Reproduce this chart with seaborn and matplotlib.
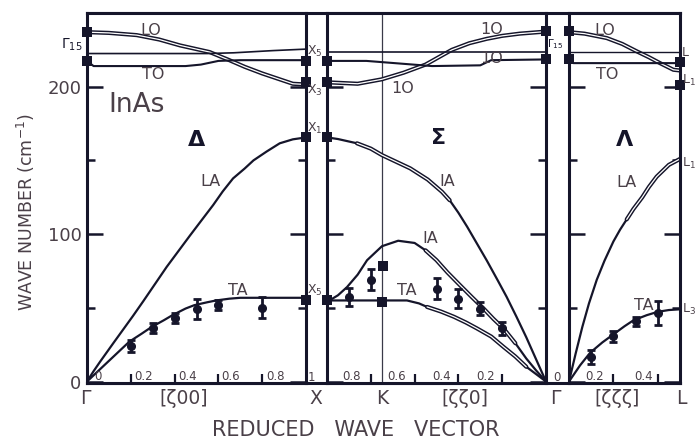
import matplotlib
matplotlib.use("Agg")
import matplotlib.pyplot as plt
import seaborn as sns
import pandas as pd

# ---------------- data (cm^-1) ----------------
# Delta  [z00]  Gamma -> X
d_lo_z = [0, 0.1, 0.227, 0.33, 0.425, 0.56, 0.65, 0.72, 0.80, 0.88, 0.94, 1.0]
d_lo = [237, 236.5, 235, 232, 228, 223.5, 218, 213.5, 209, 205, 202, 201.5]
d_to1_z = [0, 0.3, 0.55, 0.67, 0.85, 1.0]
d_to1 = [222.5, 222.5, 222.5, 223, 224.5, 225.5]
d_to2_z = [0, 0.03, 0.45, 0.52, 0.6, 0.7, 1.0]
d_to2 = [217.5, 214, 214, 215, 217.5, 218, 218]
d_la_z = [0, 0.03, 0.06, 0.12, 0.21, 0.257, 0.364, 0.47, 0.516, 0.576, 0.62, 0.667,
          0.72, 0.76, 0.82, 0.88, 0.94, 1.0]
d_la = [0, 7, 13.5, 26, 44.5, 54.5, 77.8, 99, 108, 119.7, 129, 137.8,
        144.5, 150, 156, 161.6, 164.3, 165.6]
d_ta_z = [0, 0.03, 0.06, 0.1, 0.15, 0.193, 0.25, 0.295, 0.35, 0.39, 0.45, 0.49, 0.55,
          0.59, 0.65, 0.7, 1.0]
d_ta = [0, 4.2, 8.4, 14, 21, 27, 32.5, 37, 41.5, 45, 49.5, 51.8, 53.8,
        55, 56.2, 56.8, 56.8]
d_pt_z = [0.2, 0.3, 0.4, 0.5, 0.6, 0.8]
d_pt = [24, 36, 43.4, 48.9, 51.8, 50.2]
d_pt_err = [4, 3.4, 3.4, 6.8, 3.6, 7]

# Sigma  [zz0]  X -> K -> Gamma
s_lo_z = [1, 0.86, 0.75, 0.65, 0.55, 0.43, 0.35, 0.27, 0.2, 0.12, 0]
s_lo = [203, 202, 205, 209.5, 215, 225, 229.5, 232.5, 234.5, 236, 237.4]
s_to1_z = [1, 0]
s_to1 = [223.5, 223.5]
s_to2_z = [1, 0.82, 0.52, 0.3, 0.25, 0]
s_to2 = [217.5, 217.5, 214, 214.5, 218, 218.5]
s_la_z = [1, 0.95, 0.863, 0.8, 0.749, 0.62, 0.54, 0.475, 0.44, 0.4, 0.36, 0.315, 0.27,
          0.22, 0.18, 0.135, 0.09, 0.045, 0]
s_la = [165.6, 164.5, 161.6, 158, 153.6, 144.6, 137, 128.7, 123, 114.5, 105, 93.5, 82,
        68.5, 57.5, 44, 30, 15, 0]
s_ia_z = [1, 0.95, 0.909, 0.86, 0.817, 0.749, 0.675, 0.6, 0.55, 0.5, 0.45, 0.393, 0.34,
          0.285, 0.24, 0.194, 0.14, 0.09, 0.045, 0]
s_ia = [54, 58.5, 64, 72.5, 82.3, 91.8, 95.5, 94, 89, 82.3, 74, 65.4, 57.5,
        49.5, 42.5, 36, 26, 15.6, 7.5, 0]
s_ta_z = [1, 0.635, 0.58, 0.543, 0.48, 0.42, 0.365, 0.315, 0.25, 0.194, 0.14, 0.09,
          0.045, 0]
s_ta = [55, 55, 53, 50.6, 47.5, 43.9, 40, 36, 30.5, 23.5, 17, 10, 5, 0]
s_pt_z = [0.9, 0.8, 0.5, 0.4, 0.3, 0.2]
s_pt = [57.5, 69.2, 63.1, 56.3, 49.5, 36]
s_pt_err = [6, 7, 7, 6.5, 4.5, 4.5]
s_sq_z = [0.745, 0.75]
s_sq = [78.5, 54]
k_point = 0.75

# Lambda [zzz]  Gamma -> L
l_lo_z = [0, 0.07, 0.17, 0.24, 0.305, 0.36, 0.41, 0.47, 0.5]
l_lo = [237, 236, 233, 229, 224, 220, 216, 211.5, 211]
l_to1_z = [0, 0.5]
l_to1 = [223.6, 223.6]
l_to2_z = [0, 0.02, 0.5]
l_to2 = [218.4, 216, 216]
l_la_z = [0, 0.03, 0.06, 0.09, 0.125, 0.16, 0.2, 0.23, 0.26, 0.29, 0.33, 0.36, 0.395,
          0.45, 0.5]
l_la = [0, 19, 37, 53, 69, 82, 95, 103, 110, 117, 125, 132, 139, 147, 151]
l_ta_z = [0, 0.05, 0.095, 0.15, 0.2, 0.25, 0.29, 0.35, 0.4, 0.45, 0.5]
l_ta = [0, 11, 19.5, 26.5, 32, 37.5, 41.5, 45, 47.3, 48.5, 49]
l_pt_z = [0.1, 0.2, 0.3, 0.4]
l_pt = [16.7, 30.6, 41, 46.5]
l_pt_err = [5, 4, 3, 8]

# squares at symmetry points
gamma_sq = [237, 217.5]
x_sq = [217.5, 203.5, 165.6, 55]
gamma2_sq = [237.5, 218.5]
l_sq = [217, 201]

# text
p1_ticks = [0.2, 0.4, 0.6, 0.8]
p1_labels = ["0", "0.2", "0.4", "0.6", "0.8"]
p2_ticks = [0.8, 0.6, 0.4, 0.2]
p2_labels = ["0.8", "0.6", "0.4", "0.2"]
p3_ticks = [0.2, 0.4]
p3_labels = ["0.2", "0.4"]

# ---------------- style ----------------
sns.set_theme(style="white")
plt.rcParams['font.family'] = ['DejaVu Sans']
plt.rcParams['mathtext.fontset'] = 'dejavusans'
INK = "#15152a"
TXT = "#4a4048"
W, H = 697, 440

fig = plt.figure(figsize=(W / 100, H / 100), dpi=100)
fig.patch.set_facecolor("white")


def fx(x):
    return x / W


def fy(y):
    return 1 - y / H


top_px, bot_px = 13, 383
ab = fy(bot_px)
ah = (bot_px - top_px) / H

# background frame (top/bottom lines that run across the gaps)
bg = fig.add_axes([fx(87), ab, fx(680 - 87), ah])
bg.set_xticks([]); bg.set_yticks([])
for s in ["left", "right"]:
    bg.spines[s].set_visible(False)
for s in ["top", "bottom"]:
    bg.spines[s].set_linewidth(2.2)
    bg.spines[s].set_color(INK)
bg.patch.set_alpha(0)

ax1 = fig.add_axes([fx(87), ab, fx(219), ah])
ax2 = fig.add_axes([fx(327), ab, fx(219), ah])
ax3 = fig.add_axes([fx(569), ab, fx(111), ah])
ax1.set_xlim(0, 1)
ax2.set_xlim(1, 0)
ax3.set_xlim(0, 0.5)

for ax in (ax1, ax2, ax3):
    ax.set_ylim(-1, 250)
    for s in ax.spines.values():
        s.set_linewidth(2.2)
        s.set_color(INK)
        s.set_visible(True)
    ax.set_yticks([0, 100, 200])
    ax.set_yticks([50, 150], minor=True)
    ax.tick_params(axis="y", which="major", direction="in", length=11.5, width=1.8,
                   left=True, right=True, labelleft=False, color=INK)
    ax.tick_params(axis="y", which="minor", direction="in", length=6, width=1.8,
                   left=True, right=True, color=INK)
    ax.tick_params(axis="x", which="both", direction="in", length=6.5, width=1.6,
                   bottom=True, top=False, labelbottom=False, color=INK)

ax1.set_xticks(p1_ticks)
ax2.set_xticks(p2_ticks)
ax3.set_xticks(p3_ticks)
ax1.tick_params(axis="y", which="major", labelleft=True, labelsize=13, labelcolor=TXT, pad=4)
ax1.set_yticklabels(["0", "100", "200"])


def line(ax, z, w, lw=1.5, double=False):
    df = pd.DataFrame({"z": z, "w": w})
    if double:
        sns.lineplot(data=df, x="z", y="w", ax=ax, color=INK, lw=3.0, sort=False,
                     estimator=None, legend=False)
        sns.lineplot(data=df, x="z", y="w", ax=ax, color="white", lw=0.9, sort=False,
                     estimator=None, legend=False)
    else:
        sns.lineplot(data=df, x="z", y="w", ax=ax, color=INK, lw=lw, sort=False,
                     estimator=None, legend=False)


def points(ax, z, w, e):
    ax.errorbar(z, w, yerr=e, fmt="o", ms=5.5, color=INK, ecolor=INK, elinewidth=2,
                capsize=3, capthick=2, zorder=5)


def squares(ax, z, w):
    df = pd.DataFrame({"z": z, "w": w})
    sns.scatterplot(data=df, x="z", y="w", ax=ax, marker="s", s=42, color=INK,
                    linewidth=0, clip_on=False, zorder=6, legend=False)


# panel 1 (Delta)
line(ax1, d_lo_z, d_lo, double=True)
line(ax1, d_to1_z, d_to1, lw=1.2)
line(ax1, d_to2_z, d_to2, lw=1.5)
line(ax1, d_la_z, d_la, lw=1.6)
line(ax1, d_ta_z, d_ta, lw=1.6)
points(ax1, d_pt_z, d_pt, d_pt_err)
squares(ax1, [0] * len(gamma_sq), gamma_sq)
squares(ax1, [1] * len(x_sq), x_sq)

# panel 2 (Sigma)
ax2.axvline(k_point, color="#3a3a48", lw=0.9, zorder=1)
line(ax2, s_lo_z, s_lo, double=True)
line(ax2, s_to1_z, s_to1, lw=1.2)
line(ax2, s_to2_z, s_to2, lw=1.5)
line(ax2, s_la_z, s_la, lw=1.6)
line(ax2, s_la_z[2:9], s_la[2:9], double=True)
line(ax2, s_ia_z, s_ia, lw=1.6)
line(ax2, s_ia_z[8:17], s_ia[8:17], double=True)
line(ax2, s_ta_z, s_ta, lw=1.6)
line(ax2, s_ta_z[3:12], s_ta[3:12], double=True)
points(ax2, s_pt_z, s_pt, s_pt_err)
squares(ax2, s_sq_z, s_sq)
squares(ax2, [1] * len(x_sq), x_sq)
squares(ax2, [0] * len(gamma2_sq), gamma2_sq)

# panel 3 (Lambda)
line(ax3, l_lo_z, l_lo, double=True)
line(ax3, l_to1_z, l_to1, lw=1.0)
line(ax3, l_to2_z, l_to2, lw=1.5)
line(ax3, l_la_z, l_la, lw=1.6)
line(ax3, l_la_z[8:], l_la[8:], double=True)
line(ax3, l_ta_z, l_ta, lw=1.6)
points(ax3, l_pt_z, l_pt, l_pt_err)
squares(ax3, [0] * len(gamma2_sq), gamma2_sq)
squares(ax3, [0.5] * len(l_sq), l_sq)

for ax in (ax1, ax2, ax3):
    ax.set_xlabel(""); ax.set_ylabel("")

# branch labels
lab = dict(color=TXT, fontsize=11.5, ha="center", va="center")
for ax, items in (
    (ax1, [("LO", 0.29, 238), ("TO", 0.30, 208), ("LA", 0.565, 135.5), ("TA", 0.69, 62)]),
    (ax2, [("1O", 0.247, 238.5), ("1O", 0.247, 219.3), ("1O", 0.653, 199),
           ("IA", 0.45, 135.5), ("IA", 0.53, 97), ("TA", 0.637, 61.5)]),
    (ax3, [("LO", 0.162, 238), ("TO", 0.17, 208.6), ("LA", 0.26, 135), ("TA", 0.335, 51.8)]),
):
    for t, x, y in items:
        ax.text(x, y, t, **lab)
ax1.text(0.227, 187.6, "InAs", color=TXT, fontsize=19, ha="center", va="center")
greek = dict(color=INK, fontsize=16, fontweight="bold", ha="center", va="center")
ax1.text(0.5, 164, "Δ", **greek)
ax2.text(0.49, 165, "Σ", **greek)
ax3.text(0.25, 164, "Λ", **greek)

# tick-value labels along the bottom (inside)
small = dict(color=TXT, fontsize=8.5, ha="center", va="center")
for t, x in zip(p1_labels, [0.05, 0.257, 0.458, 0.656, 0.863]):
    ax1.text(x, 3.5, t, **small)
for t, x in zip(p2_labels, [0.886, 0.682, 0.476, 0.278]):
    ax2.text(x, 3.5, t, **small)
for t, x in zip(p3_labels, [0.117, 0.334]):
    ax3.text(x, 3.5, t, **small)
fig.text(fx(311.7), fy(377), "1", **small)
fig.text(fx(556.7), fy(377), "0", **small)

# symmetry labels next to the spines
sym = dict(color=TXT, fontsize=9, ha="left", va="center")
for t, y in (("X$_5$", 51.7), ("X$_3$", 90), ("X$_1$", 128), ("X$_5$", 290)):
    fig.text(fx(307), fy(y), t, **sym)
for t, y in (("L", 52.7), ("L$_1$", 80), ("L$_1$", 163), ("L$_3$", 309)):
    fig.text(fx(682), fy(y), t, **sym)
fig.text(fx(61), fy(45), "Γ$_{15}$", color=INK, fontsize=10, ha="left", va="center")
fig.text(fx(547), fy(44), "Γ$_{15}$", color=INK, fontsize=7.5, ha="left", va="center")

# bottom labels
bl = dict(color=TXT, fontsize=13.5, ha="center", va="center")
for t, x in (("Γ", 85), ("[ζ00]", 184), ("X", 316), ("K", 382), ("[ζζ0]", 465),
             ("Γ", 555), ("[ζζζ]", 617), ("L", 681)):
    fig.text(fx(x), fy(398), t, **bl)
fig.text(fx(356), fy(430), "REDUCED   WAVE   VECTOR", color=TXT, fontsize=15,
         ha="center", va="center")
fig.text(fx(26), fy(212), "WAVE NUMBER (cm$^{-1}$)", color=TXT, fontsize=12.5,
         ha="center", va="center", rotation=90)

fig.savefig("out.png", dpi=100, facecolor="white")
